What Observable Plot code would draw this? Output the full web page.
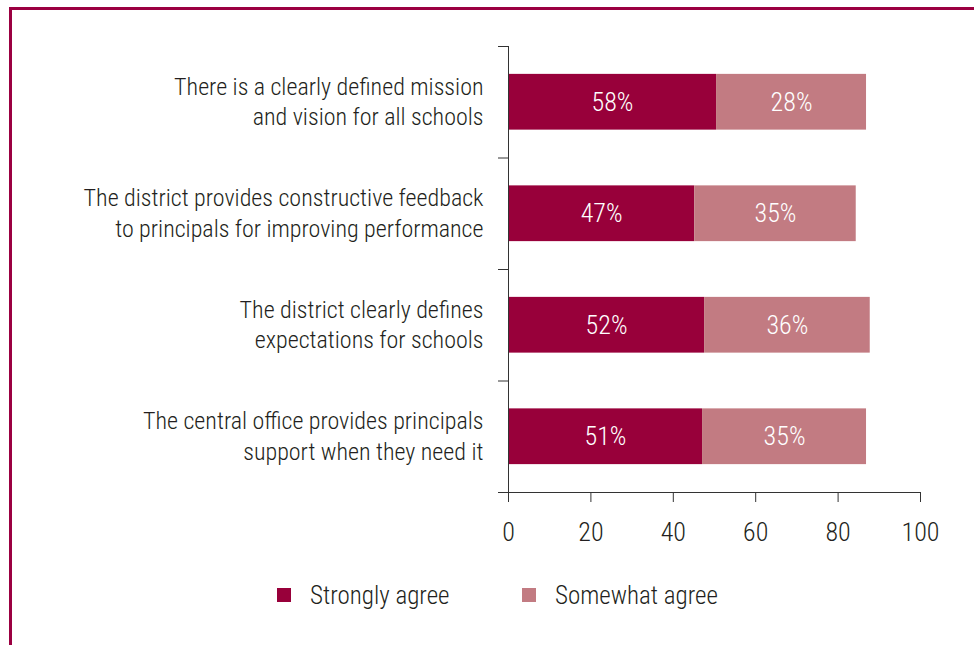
<!DOCTYPE html>
<html>
<head>
<meta charset="utf-8">
<script src="https://cdn.jsdelivr.net/npm/d3@7"></script>
<script src="https://cdn.jsdelivr.net/npm/@observablehq/plot@0.6"></script>
<style>
  html, body { margin: 0; padding: 0; background: #fff; overflow: hidden; width: 974px; height: 645px; }
  body { position: relative; font-family: "Roboto Condensed", "Liberation Sans Narrow", "DejaVu Sans Condensed", sans-serif; font-weight: 300; }
  #frame { position: absolute; left: 9px; top: 7px; width: 2000px; height: 2000px; border-top: 3px solid #9B0041; border-left: 3px solid #9B0041; box-sizing: border-box; }
  #chart { position: absolute; left: 0; top: 0; }
  .legend-item { position: absolute; top: 580px; height: 30px; display: flex; align-items: center; font-size: 25px; color: #231F20; white-space: nowrap; }
  .legend-item .sw { width: 14px; height: 14px; margin-right: 19px; flex: none; }
</style>
</head>
<body>
<div id="frame"></div>
<div id="chart"></div>
<div id="legend"></div>
<script>
const categories = [
  "There is a clearly defined mission\nand vision for all schools",
  "The district provides constructive feedback\nto principals for improving performance",
  "The district clearly defines\nexpectations for schools",
  "The central office provides principals\nsupport when they need it"
];
const seriesNames = ["Strongly agree", "Somewhat agree"];
const stronglyValues = [50.5, 45.2, 47.6, 47.1];
const somewhatValues = [36.4, 39.2, 40.2, 39.8];
const stronglyLabels = ["58%", "47%", "52%", "51%"];
const somewhatLabels = ["28%", "35%", "36%", "35%"];
const xTicks = [0, 20, 40, 60, 80, 100];
const colors = ["#98003A", "#C27B82"];

const rows = [];
categories.forEach((c, i) => {
  const a = stronglyValues[i], b = somewhatValues[i];
  rows.push({cat: c, idx: i, series: seriesNames[0], x1: 0, x2: a, label: stronglyLabels[i]});
  rows.push({cat: c, idx: i, series: seriesNames[1], x1: a, x2: a + b, label: somewhatLabels[i]});
});
const bandTicks = d3.range(categories.length + 1);
const centerTicks = categories.map((c, i) => i + 0.5);

const font = "'Roboto Condensed', 'Liberation Sans Narrow', 'DejaVu Sans Condensed', sans-serif";

const chart = Plot.plot({
  width: 974,
  height: 560,
  marginTop: 46,
  marginBottom: 68,
  marginLeft: 508,
  marginRight: 54,
  style: {fontFamily: font, fontSize: "25px", fontWeight: 300, color: "#231F20", background: "transparent"},
  x: {domain: [0, 100], axis: null},
  y: {domain: [0, categories.length], reverse: true, axis: null},
  color: {domain: seriesNames, range: colors},
  marks: [
    Plot.rect(rows, {x1: "x1", x2: "x2", y1: d => d.idx + 0.25, y2: d => d.idx + 0.75, fill: "series"}),
    Plot.text(rows, {x: d => (d.x1 + d.x2) / 2, y: d => d.idx + 0.5, text: "label", fill: "white", fontSize: 26, fontWeight: 300}),
    Plot.axisY(bandTicks, {tickSize: 10, tickFormat: () => "", stroke: "#333"}),
    Plot.axisY(centerTicks, {tickSize: 0, tickPadding: 25, tickFormat: v => categories[Math.floor(v)], lineHeight: 1.27, fontSize: 24, fontWeight: 300, fill: "#231F20", dy: -2}),
    Plot.axisX(xTicks, {tickSize: 10, tickPadding: 20, fontSize: 26, fontWeight: 300, fill: "#231F20", stroke: "#333"}),
    Plot.ruleX([0], {stroke: "#333"}),
    Plot.ruleY([categories.length], {stroke: "#333"})
  ]
});
document.getElementById("chart").appendChild(chart);

const legend = document.getElementById("legend");
const lefts = [277, 522];
seriesNames.forEach((s, i) => {
  const item = document.createElement("div");
  item.className = "legend-item";
  item.style.left = lefts[i] + "px";
  item.innerHTML = `<span class="sw" style="background:${colors[i]}"></span><span>${s}</span>`;
  legend.appendChild(item);
});
</script>
</body>
</html>
